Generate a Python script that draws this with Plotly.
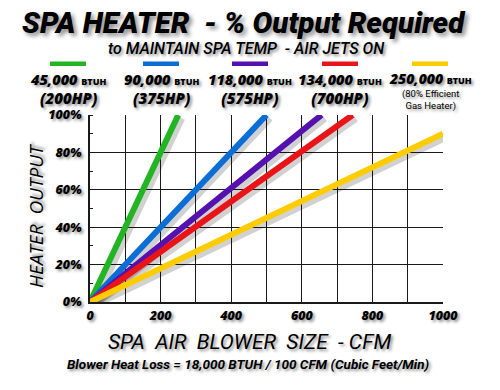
import plotly.graph_objects as go

# ---------------- data ----------------
heater_labels = ["45,000", "90,000", "118,000", "134,000", "250,000"]
heater_hp = ["(200HP)", "(375HP)", "(575HP)", "(700HP)", "(80% Efficient<br>Gas Heater)"]
line_colors = ["#23b423", "#0a6ed6", "#5510b0", "#e81418", "#ffcc00"]
# each line runs from (0 CFM, 0%) to its end point
start_cfm = [0, 0, 0, 0, 0]
start_pct = [0, 0, 0, 0, 0]
end_cfm = [250, 500, 656, 744, 1000]
end_pct = [100, 100, 100, 100, 90]

x_ticks = [0, 200, 400, 600, 800, 1000]
y_ticks = [0, 20, 40, 60, 80, 100]
y_tick_text = ["0%", "20%", "40%", "60%", "80%", "100%"]

# ---------------- layout geometry (pixels) ----------------
W, H = 500, 390
L, R, T, B = 90, 57, 115, 88
PW, PH = W - L - R, H - T - B

def px(xp):
    return (xp - L) / PW

def py(yp):
    return (H - B - yp) / PH

TEXT_SHADOW = "2px 2px 3px rgba(0,0,0,0.45)"
FONT = "Open Sans"

fig = go.Figure()

# shadows of lines (offset a few pixels right/down)
dx = 3 * 1000 / PW
dy = 3 * 100 / PH
for i in range(len(end_cfm)):
    fig.add_trace(go.Scatter(
        x=[start_cfm[i] + dx, end_cfm[i] + dx],
        y=[start_pct[i] - dy, end_pct[i] - dy],
        mode="lines", line=dict(color="rgba(0,0,0,0.18)", width=8),
        hoverinfo="skip", showlegend=False))

for i in range(len(end_cfm)):
    fig.add_trace(go.Scatter(
        x=[start_cfm[i], end_cfm[i]], y=[start_pct[i], end_pct[i]],
        mode="lines", line=dict(color=line_colors[i], width=6),
        name=heater_labels[i] + " BTUH", showlegend=False))

axis_font = dict(family=FONT, size=12.5, color="black", weight=800, style="italic", shadow=TEXT_SHADOW)

fig.update_xaxes(
    range=[0, 1000], tickvals=x_ticks, ticktext=[str(v) for v in x_ticks],
    showgrid=True, gridcolor="#1a1a1a", gridwidth=1.4,
    showline=True, linecolor="#1a1a1a", linewidth=1.5,
    ticks="", ticklen=0, ticklabelstandoff=1,
    tickfont=axis_font, zeroline=False, fixedrange=True,
    minor=dict(dtick=100, tick0=0, showgrid=True, gridcolor="#1a1a1a", gridwidth=1.4),
)
fig.update_yaxes(
    range=[0, 100], tickvals=y_ticks, ticktext=y_tick_text,
    showgrid=True, gridcolor="#1a1a1a", gridwidth=1.4,
    showline=True, linecolor="#1a1a1a", linewidth=1.5,
    ticks="", ticklen=0, ticklabelstandoff=4,
    tickfont=axis_font, zeroline=False, fixedrange=True,
    minor=dict(dtick=10, tick0=0, showgrid=False,
               ticks="inside", ticklen=3, tickcolor="#1a1a1a", tickwidth=1),
)

ann = []
# title
ann.append(dict(x=px(244), y=py(23), text="SPA HEATER  - % Output Required",
                font=dict(family="Roboto", size=29.5, weight=900, style="italic", color="black",
                          shadow="3px 3px 4px rgba(0,0,0,0.45)")))
ann.append(dict(x=px(246), y=py(49), text="to MAINTAIN SPA TEMP  - AIR JETS ON",
                font=dict(family="Roboto", size=16, weight=500, style="italic", color="black",
                          shadow=TEXT_SHADOW)))

legend_cx = [68, 161, 250, 340, 430]
shapes = []
for i in range(len(heater_labels)):
    cx = legend_cx[i]
    shapes.append(dict(type="rect", xref="paper", yref="paper",
                       x0=px(cx - 18), x1=px(cx + 18), y0=py(66), y1=py(61.5),
                       fillcolor=line_colors[i], line=dict(width=0)))
    first = heater_labels[i] + " <span style='font-size:9px;font-style:normal'>BTUH</span>"
    if i < 4:
        ann.append(dict(x=px(cx), y=py(89.5),
                        text=first + "<br><span style='font-size:15px'>" + heater_hp[i] + "</span>",
                        font=dict(family=FONT, size=14.5, weight=800, style="italic", color="black",
                                  shadow=TEXT_SHADOW)))
    else:
        ann.append(dict(x=px(cx), y=py(79), text=first,
                        font=dict(family=FONT, size=14, weight=800, style="italic", color="black",
                                  shadow=TEXT_SHADOW)))
        ann.append(dict(x=px(cx), y=py(100), text=heater_hp[i],
                        font=dict(family="Roboto", size=9.5, weight=400, color="black",
                                  shadow=TEXT_SHADOW)))

ann.append(dict(x=px(36), y=py(216), text="HEATER  OUTPUT", textangle=-90,
                font=dict(family=FONT, size=19, weight=500, style="italic", color="black",
                          shadow=TEXT_SHADOW)))
ann.append(dict(x=px(249), y=py(342), text="SPA  AIR  BLOWER  SIZE  - CFM",
                font=dict(family="Roboto", size=21, weight=400, style="italic", color="black",
                          shadow=TEXT_SHADOW)))
ann.append(dict(x=px(248), y=py(363.5), text="Blower Heat Loss = 18,000 BTUH / 100 CFM (Cubic Feet/Min)",
                font=dict(family="Roboto", size=13.5, weight=700, style="italic", color="black",
                          shadow=TEXT_SHADOW)))

for a in ann:
    a.update(xref="paper", yref="paper", showarrow=False, xanchor="center", yanchor="middle")

fig.update_layout(
    width=W, height=H, margin=dict(l=L, r=R, t=T, b=B),
    paper_bgcolor="white", plot_bgcolor="white",
    annotations=ann, shapes=shapes, showlegend=False,
)

fig.write_html("out.html", config={"displayModeBar": False},
               post_script="document.body.style.margin='0';")
